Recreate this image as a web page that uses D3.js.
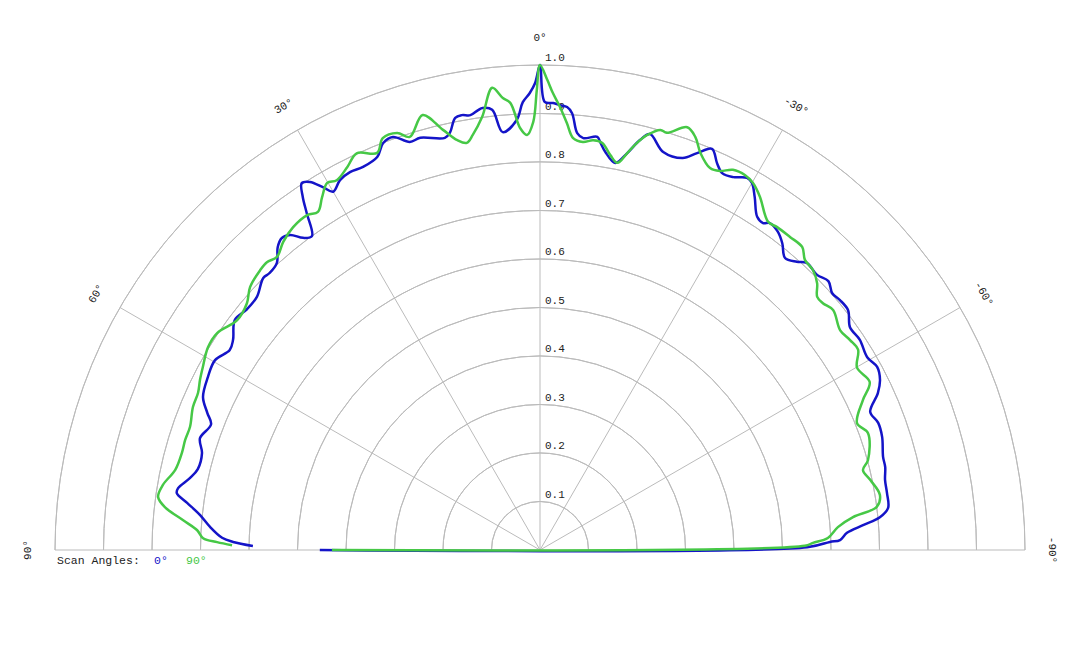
<!DOCTYPE html>
<html>
<head>
<meta charset="utf-8">
<script src="https://cdn.jsdelivr.net/npm/d3@7"></script>
<style>
  body { margin: 0; background: #fff; }
  text { font-family: "Liberation Mono", "DejaVu Sans Mono", monospace; }
</style>
</head>
<body>
<script>
// scan angle series, angle in degrees (positive = left), value = normalised amplitude
var scanLabels = ["0°", "90°"];
var scanColors = ["#1414c8", "#46c846"];

var angles0 = [90, -89.4, -88.4, -88.1, -86.8, -85.6, -84.5, -83.1, -80.7, -78.5, -76.5, -74.8, -71.7, -69.4,
  -67.3, -65.1, -63.4, -61.5, -59.5, -56.7, -54.3, -52.1, -50.2, -48.7, -47.0, -45.2, -42.9, -41.7, -40.0,
  -38.3, -36.8, -35.1, -34.3, -33.1, -31.3, -30.0, -29.1, -27.4, -25.8, -24.6, -23.2, -21.6, -20.0, -17.2,
  -14.8, -13.7, -12.4, -11.0, -9.3, -8.4, -7.9, -6.0, -5.1, -4.2, -3.5, -2.6, -1.7, -0.6, 0,
  0.6, 1.3, 2.2, 3.1, 5.1, 6.2, 7.4, 8.0, 9.1, 10.2, 11.1, 12.2, 13.0, 16.2, 17.7, 19.6, 21.1, 22.5, 24.8,
  26.7, 28.4, 30.0, 30.9, 32.0, 33.0, 33.9, 34.7, 36.0, 37.2, 38.4, 39.6, 40.9, 42.5, 44.3, 45.5, 48.2,
  50.6, 53.0, 55.6, 57.2, 59.7, 62.5, 65.6, 67.6, 69.1, 71.8, 74.0, 76.7, 78.4, 80.3, 81.1, 82.4, 84.1,
  86.0, 87.8, 88.5, 89.2];
var values0 = [0.454, 0.551, 0.598, 0.619, 0.634, 0.668, 0.704, 0.723, 0.725, 0.726, 0.732, 0.733, 0.743, 0.745,
  0.738, 0.768, 0.784, 0.791, 0.783, 0.789, 0.787, 0.805, 0.805, 0.802, 0.813, 0.805, 0.808, 0.796, 0.786,
  0.806, 0.819, 0.824, 0.816, 0.820, 0.852, 0.874, 0.878, 0.866, 0.863, 0.877, 0.900, 0.880, 0.860, 0.859,
  0.887, 0.870, 0.838, 0.813, 0.832, 0.850, 0.860, 0.854, 0.863, 0.903, 0.915, 0.918, 0.922, 0.924, 1.000,
  0.963, 0.942, 0.924, 0.888, 0.865, 0.913, 0.919, 0.916, 0.908, 0.911, 0.908, 0.880, 0.872, 0.885, 0.883,
  0.904, 0.899, 0.877, 0.870, 0.872, 0.867, 0.853, 0.872, 0.895, 0.902, 0.877, 0.845, 0.800, 0.808, 0.829,
  0.835, 0.826, 0.803, 0.798, 0.800, 0.783, 0.782, 0.788, 0.767, 0.761, 0.776, 0.772, 0.763, 0.742, 0.726,
  0.738, 0.725, 0.725, 0.737, 0.757, 0.758, 0.734, 0.705, 0.682, 0.656, 0.633, 0.592];

var angles90 = [90, -89.1, -88.5, -87.6, -85.6, -84.0, -82.7, -80.8, -78.0, -76.1, -74.7, -70.4, -68.2, -65.1,
  -63.0, -60.1, -57.8, -55.9, -53.8, -50.7, -48.9, -47.6, -46.1, -44.3, -42.4, -40.9, -38.6, -36.3, -34.8,
  -31.9, -30.1, -28.7, -26.9, -25.4, -24.0, -22.0, -20.6, -19.2, -16.9, -16.0, -14.5, -13.4, -12.4, -11.3,
  -10.1, -8.7, -7.4, -6.0, -4.6, -3.6, -2.6, -1.6, -0.9, 0,
  0.4, 0.9, 1.8, 2.7, 3.8, 4.7, 5.9, 7.6, 9.2, 10.2, 11.4, 13.0, 15.1, 17.5, 18.9, 20.9, 22.3, 24.8, 26.7,
  28.8, 30.1, 31.7, 33.3, 34.8, 37.4, 39.8, 41.9, 43.5, 45.0, 47.8, 49.9, 52.8, 56.1, 58.6, 61.5, 63.4,
  65.3, 67.6, 70.6, 72.8, 74.7, 77.6, 80.2, 82.1, 83.5, 85.2, 86.7, 88.0, 88.6, 89.1];
var values90 = [0.429, 0.546, 0.563, 0.594, 0.616, 0.649, 0.700, 0.710, 0.696, 0.686, 0.701, 0.718, 0.704, 0.734,
  0.763, 0.754, 0.775, 0.772, 0.767, 0.781, 0.774, 0.774, 0.793, 0.806, 0.810, 0.826, 0.826, 0.826, 0.824,
  0.858, 0.875, 0.881, 0.879, 0.865, 0.862, 0.883, 0.910, 0.923, 0.899, 0.901, 0.884, 0.863, 0.838, 0.814,
  0.827, 0.849, 0.852, 0.846, 0.852, 0.882, 0.914, 0.943, 0.969, 1.000,
  0.948, 0.883, 0.856, 0.871, 0.924, 0.935, 0.958, 0.901, 0.867, 0.853, 0.862, 0.889, 0.929, 0.893, 0.909,
  0.909, 0.885, 0.901, 0.884, 0.870, 0.875, 0.855, 0.834, 0.841, 0.838, 0.827, 0.812, 0.818, 0.816, 0.807,
  0.790, 0.784, 0.802, 0.802, 0.791, 0.784, 0.776, 0.774, 0.765, 0.766, 0.765, 0.770, 0.789, 0.795, 0.778,
  0.739, 0.708, 0.695, 0.666, 0.635];

var ringValues = [0.1, 0.2, 0.3, 0.4, 0.5, 0.6, 0.7, 0.8, 0.9, 1.0];
var spokeAngles = [90, 60, 30, 0, -30, -60, -90];

var width = 1080, height = 648;
var cx = 540, cy = 550;

var svg = d3.select("body").append("svg")
    .attr("width", width)
    .attr("height", height);

var r = d3.scaleLinear().domain([0, 1]).range([0, 485]);
var rad = function(deg) { return -deg * Math.PI / 180; };

var g = svg.append("g").attr("transform", "translate(" + cx + "," + cy + ")");

// rings
var arc = d3.arc().startAngle(-Math.PI / 2).endAngle(Math.PI / 2);
g.selectAll(".ring").data(ringValues).enter().append("path")
    .attr("class", "ring")
    .attr("d", function(d) { return arc({innerRadius: r(d), outerRadius: r(d)}); })
    .attr("fill", "none")
    .attr("stroke", "#bbb")
    .attr("stroke-width", 1);

// spokes
g.selectAll(".spoke").data(spokeAngles).enter().append("line")
    .attr("class", "spoke")
    .attr("x1", 0).attr("y1", 0)
    .attr("x2", function(d) { return r(1) * Math.sin(rad(d)); })
    .attr("y2", function(d) { return -r(1) * Math.cos(rad(d)); })
    .attr("stroke", "#bbb")
    .attr("stroke-width", 1);

// ring labels
g.selectAll(".rlabel").data(ringValues).enter().append("text")
    .attr("x", 5)
    .attr("y", function(d) { return -r(d) - 4; })
    .attr("font-size", 11)
    .attr("fill", "#222")
    .text(function(d) { return d.toFixed(1); });

// angle labels
g.selectAll(".alabel").data(spokeAngles).enter().append("text")
    .attr("transform", function(d) {
        var x = 513 * Math.sin(rad(d)), y = -513 * Math.cos(rad(d));
        return "translate(" + x + "," + y + ")rotate(" + (-d) + ")";
    })
    .attr("text-anchor", "middle")
    .attr("dy", "0.35em")
    .attr("font-size", 11)
    .attr("fill", "#222")
    .text(function(d) { return d + "°"; });

// series
var line = d3.lineRadial()
    .angle(function(d) { return rad(d[0]); })
    .radius(function(d) { return r(d[1]); })
    .curve(d3.curveCatmullRom.alpha(0.5));

var series = [
    d3.zip(angles0, values0),
    d3.zip(angles90, values90)
];

g.selectAll(".series").data(series).enter().append("path")
    .attr("class", "series")
    .attr("d", line)
    .attr("fill", "none")
    .attr("stroke", function(d, i) { return scanColors[i]; })
    .attr("stroke-width", 2.5)
    .attr("stroke-linejoin", "round");

// legend
svg.append("text")
    .attr("x", 57).attr("y", 564)
    .attr("font-size", 11.5)
    .attr("fill", "#222")
    .text("Scan Angles:");

svg.selectAll(".legend").data(scanLabels).enter().append("text")
    .attr("x", function(d, i) { return i === 0 ? 154 : 186; })
    .attr("y", 564)
    .attr("font-size", 11.5)
    .attr("fill", function(d, i) { return scanColors[i]; })
    .text(function(d) { return d; });
</script>
</body>
</html>
